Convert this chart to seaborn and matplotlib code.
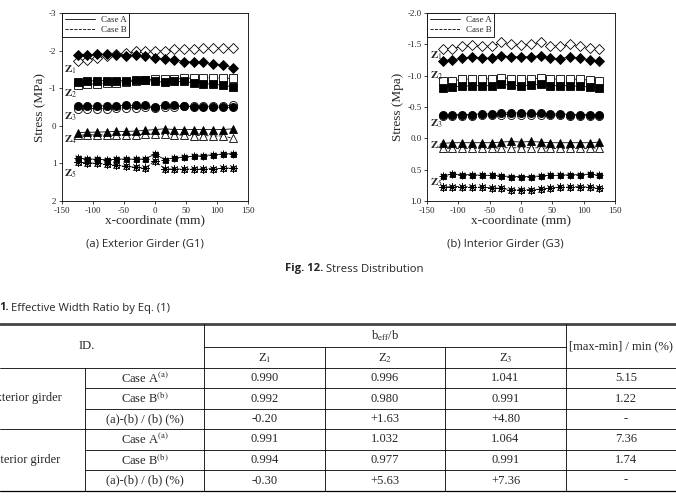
import numpy as np
import pandas as pd
import matplotlib
matplotlib.use('Agg')
import matplotlib.pyplot as plt
import seaborn as sns
from matplotlib.lines import Line2D
from matplotlib.ticker import FormatStrFormatter

# x positions of the gauges (mm)
x_mm = [-125, -109.4, -93.8, -78.1, -62.5, -46.9, -31.3, -15.6, 0,
        15.6, 31.3, 46.9, 62.5, 78.1, 93.8, 109.4, 125]

# (a) Exterior girder G1, stress (MPa)
g1_z1_a = [-1.88, -1.88, -1.90, -1.90, -1.88, -1.86, -1.89, -1.85, -1.80, -1.78, -1.76, -1.71, -1.69, -1.69, -1.64, -1.61, -1.55]
g1_z1_b = [-1.72, -1.76, -1.80, -1.86, -1.90, -1.93, -1.98, -2.00, -2.00, -2.00, -2.04, -2.03, -2.04, -2.08, -2.06, -2.07, -2.06]
g1_z2_a = [-1.17, -1.19, -1.20, -1.20, -1.20, -1.20, -1.22, -1.21, -1.18, -1.16, -1.18, -1.18, -1.14, -1.12, -1.11, -1.08, -1.04]
g1_z2_b = [-1.08, -1.10, -1.12, -1.14, -1.15, -1.17, -1.19, -1.22, -1.24, -1.24, -1.24, -1.26, -1.27, -1.28, -1.27, -1.27, -1.26]
g1_z3_a = [-0.52, -0.52, -0.53, -0.53, -0.53, -0.54, -0.54, -0.55, -0.50, -0.56, -0.54, -0.52, -0.51, -0.51, -0.50, -0.49, -0.49]
g1_z3_b = [-0.45, -0.46, -0.46, -0.46, -0.47, -0.48, -0.48, -0.50, -0.47, -0.51, -0.51, -0.52, -0.52, -0.52, -0.53, -0.53, -0.54]
g1_z4_a = [0.18, 0.17, 0.17, 0.16, 0.15, 0.15, 0.14, 0.12, 0.10, 0.08, 0.10, 0.10, 0.10, 0.10, 0.10, 0.10, 0.08]
g1_z4_b = [0.25, 0.24, 0.24, 0.24, 0.24, 0.24, 0.24, 0.22, 0.22, 0.23, 0.24, 0.25, 0.26, 0.26, 0.27, 0.27, 0.33]
g1_z5_a = [0.86, 0.88, 0.89, 0.90, 0.89, 0.88, 0.89, 0.88, 0.75, 0.90, 0.85, 0.83, 0.81, 0.79, 0.77, 0.75, 0.74]
g1_z5_b = [0.97, 0.98, 1.00, 1.02, 1.05, 1.08, 1.10, 1.13, 0.93, 1.15, 1.15, 1.15, 1.15, 1.14, 1.14, 1.13, 1.12]

# (b) Interior girder G3, stress (MPa)
g3_z1_a = [-1.24, -1.25, -1.28, -1.30, -1.28, -1.28, -1.32, -1.30, -1.30, -1.30, -1.32, -1.28, -1.27, -1.30, -1.28, -1.25, -1.24]
g3_z1_b = [-1.42, -1.43, -1.47, -1.49, -1.47, -1.47, -1.53, -1.50, -1.49, -1.50, -1.53, -1.48, -1.47, -1.50, -1.48, -1.44, -1.42]
g3_z2_a = [-0.81, -0.82, -0.83, -0.84, -0.84, -0.84, -0.86, -0.85, -0.84, -0.85, -0.86, -0.84, -0.84, -0.84, -0.83, -0.82, -0.81]
g3_z2_b = [-0.92, -0.92, -0.94, -0.95, -0.95, -0.95, -0.97, -0.95, -0.94, -0.95, -0.96, -0.95, -0.94, -0.95, -0.94, -0.93, -0.92]
g3_z3_a = [-0.38, -0.38, -0.38, -0.38, -0.39, -0.39, -0.40, -0.41, -0.40, -0.40, -0.40, -0.39, -0.39, -0.38, -0.38, -0.38, -0.38]
g3_z3_b = [-0.36, -0.36, -0.36, -0.36, -0.37, -0.37, -0.38, -0.38, -0.37, -0.38, -0.38, -0.37, -0.37, -0.36, -0.36, -0.36, -0.36]
g3_z4_a = [0.08, 0.07, 0.07, 0.07, 0.07, 0.07, 0.06, 0.05, 0.06, 0.05, 0.06, 0.07, 0.07, 0.07, 0.07, 0.07, 0.06]
g3_z4_b = [0.16, 0.16, 0.16, 0.16, 0.16, 0.16, 0.15, 0.15, 0.15, 0.15, 0.15, 0.16, 0.16, 0.16, 0.16, 0.16, 0.15]
g3_z5_a = [0.60, 0.57, 0.58, 0.58, 0.59, 0.59, 0.60, 0.61, 0.61, 0.61, 0.60, 0.59, 0.59, 0.58, 0.58, 0.57, 0.59]
g3_z5_b = [0.78, 0.77, 0.77, 0.78, 0.78, 0.79, 0.80, 0.82, 0.82, 0.82, 0.81, 0.79, 0.78, 0.78, 0.77, 0.78, 0.80]

# zone label positions (x, y) in data units
g1_zone_pos = [(-146, -1.49), (-146, -0.84), (-146, -0.25), (-146, 0.37), (-146, 1.28)]
g3_zone_pos = [(-146, -1.31), (-146, -1.00), (-146, -0.23), (-146, 0.12), (-146, 0.71)]

# table contents
tbl_cols = ['Z$_1$', 'Z$_2$', 'Z$_3$']
tbl_rows = ['Case A$^{\\rm (a)}$', 'Case B$^{\\rm (b)}$', '(a)-(b) / (b) (%)']
tbl_groups = ['Exterior girder', 'Interior girder']
tbl_vals = [['0.990', '0.996', '1.041', '5.15'],
            ['0.992', '0.980', '0.991', '1.22'],
            ['-0.20', '+1.63', '+4.80', '-'],
            ['0.991', '1.032', '1.064', '7.36'],
            ['0.994', '0.977', '0.991', '1.74'],
            ['-0.30', '+5.63', '+7.36', '-']]

sns.set_theme(style='ticks')
plt.rcParams['font.family'] = ['Liberation Serif', 'DejaVu Serif']
plt.rcParams['mathtext.fontset'] = 'stix'
plt.rcParams['axes.unicode_minus'] = False

W, H = 676, 497
fig = plt.figure(figsize=(W / 100, H / 100), dpi=100)

# background axes in pixel coordinates for captions / table
bg = fig.add_axes([0, 0, 1, 1])
bg.set_xlim(0, W)
bg.set_ylim(H, 0)
bg.axis('off')


def px_axes(l, t, r, b):
    return fig.add_axes([l / W, 1 - b / H, (r - l) / W, (b - t) / H])


ax1 = px_axes(62, 13, 248, 201)
ax2 = px_axes(427, 13, 615, 201)

styles = {
    'z1': dict(marker='D', markersize=4.8),
    'z2': dict(marker='s', markersize=5.4),
    'z3': dict(marker='o', markersize=5.8),
    'z4': dict(marker='^', markersize=5.4),
}


def draw_series(ax, vals, key, filled):
    ls = '-' if filled else '--'
    fc = 'black' if filled else 'white'
    if key == 'z5':
        sns.lineplot(x=x_mm, y=vals, ax=ax, color='black', linewidth=0.6, linestyle=ls,
                     marker='s', markersize=3.6, markerfacecolor=fc, markeredgecolor='black',
                     markeredgewidth=0.6, legend=False, zorder=3)
        sns.lineplot(x=x_mm, y=vals, ax=ax, color='black', linestyle='none',
                     marker=(8, 2, 0), markersize=5.5 if filled else 6.0,
                     markeredgecolor='black', markeredgewidth=0.5 if not filled else 0.6,
                     legend=False, zorder=4)
    else:
        sns.lineplot(x=x_mm, y=vals, ax=ax, color='black', linewidth=0.6, linestyle=ls,
                     markerfacecolor=fc, markeredgecolor='black', markeredgewidth=0.6,
                     legend=False, zorder=3 if filled else 2, **styles[key])


g1 = [(g1_z1_a, g1_z1_b), (g1_z2_a, g1_z2_b), (g1_z3_a, g1_z3_b), (g1_z4_a, g1_z4_b), (g1_z5_a, g1_z5_b)]
g3 = [(g3_z1_a, g3_z1_b), (g3_z2_a, g3_z2_b), (g3_z3_a, g3_z3_b), (g3_z4_a, g3_z4_b), (g3_z5_a, g3_z5_b)]

for ax, series, zpos in [(ax1, g1, g1_zone_pos), (ax2, g3, g3_zone_pos)]:
    for i, (a, b) in enumerate(series):
        key = 'z%d' % (i + 1)
        draw_series(ax, b, key, False)
        draw_series(ax, a, key, True)
        ax.text(zpos[i][0], zpos[i][1], '$\\mathbf{Z}_{%d}$' % (i + 1), fontsize=8,
                ha='left', va='center')
    ax.set_xlim(-150, 150)
    ax.set_xticks([-150, -100, -50, 0, 50, 100, 150])
    ax.set_xlabel('x-coordinate (mm)', fontsize=9.5, labelpad=0)
    ax.tick_params(direction='out', length=2.5, width=0.6, labelsize=6.5, pad=1.5)
    for s in ax.spines.values():
        s.set_linewidth(0.6)
        s.set_color('black')
    handles = [Line2D([], [], color='black', lw=0.6, ls='-'),
               Line2D([], [], color='black', lw=0.6, ls='--')]
    leg = ax.legend(handles, ['Case A', 'Case B'], loc='upper left', fontsize=6.5,
                    frameon=True, fancybox=False, edgecolor='black', framealpha=1,
                    borderaxespad=0, handlelength=3.4, borderpad=0.3, labelspacing=0.2,
                    handletextpad=0.6)
    leg.get_frame().set_linewidth(0.6)

ax1.set_ylim(2, -3)
ax1.set_yticks([-3, -2, -1, 0, 1, 2])
ax1.set_ylabel('Stress (MPa)', fontsize=9.5, labelpad=2)

ax2.set_ylim(1.0, -2.0)
ax2.set_yticks([-2.0, -1.5, -1.0, -0.5, 0.0, 0.5, 1.0])
ax2.yaxis.set_major_formatter(FormatStrFormatter('%.1f'))
ax2.set_ylabel('Stress (Mpa)', fontsize=9.5, labelpad=2)

# captions
sans = ['Open Sans', 'DejaVu Sans']
cfs = 8.1
bg.text(144.5, 244, '(a) Exterior Girder (G1)', family=sans, fontsize=cfs, ha='center', va='center')
bg.text(505, 244, '(b) Interior Girder (G3)', family=sans, fontsize=cfs, ha='center', va='center')
bg.text(323, 269, 'Fig. 12.', family=sans, fontsize=cfs, fontweight='bold', ha='right', va='center')
bg.text(326, 269, 'Stress Distribution', family=sans, fontsize=cfs, ha='left', va='center')
bg.text(-1, 308, '1.', family=sans, fontsize=cfs, fontweight='bold', ha='left', va='center')
bg.text(11, 308, 'Effective Width Ratio by Eq. (1)', family=sans, fontsize=cfs, ha='left', va='center')

# table lines
thin = dict(color='black', lw=0.6)
bg.plot([0, W], [324, 324], color='#444444', lw=2.0)
bg.plot([204, 566], [347, 347], **thin)
for yy in [368, 429]:
    bg.plot([0, W], [yy, yy], **thin)
for yy in [388, 409, 450, 470]:
    bg.plot([85, W], [yy, yy], **thin)
bg.plot([0, W], [491, 491], color='black', lw=0.9)
bg.plot([204, 204], [324, 491], **thin)
bg.plot([566, 566], [324, 491], **thin)
bg.plot([85, 85], [368, 491], **thin)
for xx in [325, 445]:
    bg.plot([xx, xx], [347, 491], **thin)

tfs = 9
bg.text(87, 346, 'ID.', fontsize=tfs, ha='center', va='center')
bg.text(385, 336, 'b$_{\\rm eff}$/b', fontsize=tfs, ha='center', va='center')
bg.text(621, 346, '[max-min] / min (%)', fontsize=tfs, ha='center', va='center')
col_x = [264.5, 385, 505.5, 626]
for j, c in enumerate(tbl_cols):
    bg.text(col_x[j], 358, c, fontsize=tfs, ha='center', va='center')
row_y = [378, 398.5, 419, 439.5, 460, 480.5]
for i, vals in enumerate(tbl_vals):
    bg.text(144.5, row_y[i], tbl_rows[i % 3], fontsize=tfs, ha='center', va='center')
    for j, v in enumerate(vals):
        bg.text(col_x[j], row_y[i], v, fontsize=tfs, ha='center', va='center')
bg.text(62, 398.5, tbl_groups[0], fontsize=tfs, ha='right', va='center')
bg.text(60, 460, tbl_groups[1], fontsize=tfs, ha='right', va='center')

fig.savefig('out.png', dpi=100)
